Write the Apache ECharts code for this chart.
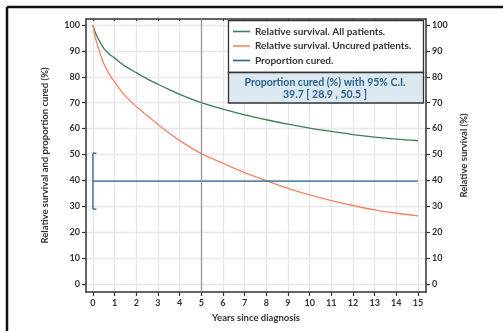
<!DOCTYPE html>
<html>
<head>
<meta charset="utf-8">
<script src="https://cdn.jsdelivr.net/npm/echarts@6/dist/echarts.min.js"></script>
<style>
  html, body { margin: 0; padding: 0; background: #fff; }
  #chart { width: 503px; height: 331px; }
</style>
</head>
<body>
<div id="chart"></div>
<script>
// Years since diagnosis at which the survival curves are sampled
const years = [0, 0.1, 0.25, 0.5, 0.75, 1, 1.5, 2, 2.5, 3, 3.5, 4, 5, 6, 7, 8, 9, 10, 11, 12, 13, 14, 15];
// Relative survival, all patients (%)
const survivalAll = [100, 97.3, 94.6, 91, 88.8, 87.2, 84.0, 81.6, 79.2, 77.1, 75.1, 73.2, 70.0, 67.5, 65.3, 63.4, 61.7, 60.2, 58.9, 57.7, 56.7, 55.9, 55.3];
// Relative survival, uncured patients (%)
const survivalUncured = [100, 95.5, 91, 85, 81, 78, 72.5, 68.5, 65, 61.6, 58.4, 55.4, 50.3, 46.6, 43, 39.9, 36.9, 34.4, 32.2, 30.3, 28.6, 27.3, 26.3];
// Proportion cured (%) with 95% confidence interval
const cureYears = [0, 15];
const cureEstimate = 39.7;
const cureLower = 28.9;
const cureUpper = 50.5;
// Tick values
const xTicks = [0, 1, 2, 3, 4, 5, 6, 7, 8, 9, 10, 11, 12, 13, 14, 15];
const yTicks = [0, 10, 20, 30, 40, 50, 60, 70, 80, 90, 100];
const markYear = 5;

const FONT = "Lato, 'Liberation Sans', sans-serif";
const AXIS_COLOR = '#333';
const TEXT_COLOR = '#333';
const GREEN = '#3f7d57';
const ORANGE = '#f58466';
const BLUE = '#2a6290';

const chart = echarts.init(document.getElementById('chart'), null, { renderer: 'canvas' });

const pairs = (xs, ys) => xs.map((x, i) => [x, ys[i]]);

const gridLine = { show: true, lineStyle: { color: '#e8e8e8', width: 1.3 } };
const axisLine = { show: true, onZero: false, lineStyle: { color: AXIS_COLOR, width: 1.5 } };
const tickLabel = { fontFamily: FONT, fontSize: 9, fontWeight: 'bold', color: TEXT_COLOR };
const nameStyle = { fontFamily: FONT, fontSize: 9.5, fontWeight: 'bold', color: TEXT_COLOR };

chart.setOption({
  animation: false,
  textStyle: { fontFamily: FONT },
  grid: { left: 86, right: 77, top: 19, bottom: 39, containLabel: false },
  xAxis: [
    {
      type: 'value', position: 'bottom', min: -0.32, max: 15.37,
      name: 'Years since diagnosis', nameLocation: 'middle', nameGap: 19,
      nameTextStyle: nameStyle,
      axisLine: axisLine,
      axisTick: { show: true, length: 4, lineStyle: { color: AXIS_COLOR, width: 1.2 }, customValues: xTicks },
      axisLabel: Object.assign({ margin: 7, customValues: xTicks }, tickLabel),
      splitLine: gridLine
    },
    {
      type: 'value', position: 'top', min: -0.32, max: 15.37,
      axisLine: axisLine,
      axisTick: { show: true, inside: true, length: 2, lineStyle: { color: AXIS_COLOR, width: 1.2 }, customValues: xTicks },
      axisLabel: { show: false },
      splitLine: { show: false }
    }
  ],
  yAxis: [
    {
      type: 'value', position: 'left', min: -3.1, max: 102.3,
      name: 'Relative survival and proportion cured (%)', nameLocation: 'middle', nameGap: 36, nameRotate: 90,
      nameTextStyle: nameStyle,
      axisLine: axisLine,
      axisTick: { show: true, length: 4, lineStyle: { color: AXIS_COLOR, width: 1.2 }, customValues: yTicks },
      axisLabel: Object.assign({ margin: 6, customValues: yTicks }, tickLabel),
      splitLine: gridLine
    },
    {
      type: 'value', position: 'right', min: -3.1, max: 102.3,
      name: 'Relative survival (%)', nameLocation: 'middle', nameGap: 32, nameRotate: 90,
      nameTextStyle: nameStyle,
      axisLine: axisLine,
      axisTick: { show: true, length: 4, lineStyle: { color: AXIS_COLOR, width: 1.2 }, customValues: yTicks },
      axisLabel: Object.assign({ margin: 6, customValues: yTicks }, tickLabel),
      splitLine: { show: false }
    }
  ],
  legend: {
    orient: 'vertical', left: 233, top: 26.5, z: 10, padding: 0,
    icon: 'rect', itemWidth: 17, itemHeight: 1.6, itemGap: 4.5,
    textStyle: { fontFamily: FONT, fontSize: 10, fontWeight: 'bold', color: TEXT_COLOR, lineHeight: 10 },
    data: ['Relative survival. All patients.', 'Relative survival. Uncured patients.', 'Proportion cured.']
  },
  graphic: [
    // outer frame
    { type: 'line', z: 20, shape: { x1: 7, y1: 7, x2: 503, y2: 7 }, style: { stroke: '#111', lineWidth: 2.5 } },
    { type: 'line', z: 20, shape: { x1: 7, y1: 7, x2: 7, y2: 331 }, style: { stroke: '#111', lineWidth: 2.5 } },
    // legend box
    { type: 'rect', z: 8, shape: { x: 228.5, y: 20.5, width: 195, height: 52 }, style: { fill: '#fff', stroke: '#333', lineWidth: 1.3 } },
    { type: 'rect', z: 8, shape: { x: 228.5, y: 72.5, width: 195, height: 30.5 }, style: { fill: '#dce8f0', stroke: '#333', lineWidth: 1.3 } },
    { type: 'text', z: 9, x: 325, y: 76.5,
      style: { text: 'Proportion cured (%) with 95% C.I.\n' + cureEstimate.toFixed(1) + ' [ ' + cureLower.toFixed(1) + ' , ' + cureUpper.toFixed(1) + ' ]',
               fill: BLUE, font: 'bold 10.5px ' + FONT, align: 'center', verticalAlign: 'top', lineHeight: 11.8 } }
  ],
  series: [
    {
      name: 'Relative survival. All patients.', type: 'line', data: pairs(years, survivalAll),
      smooth: 0.3, showSymbol: false, symbol: 'none',
      lineStyle: { color: GREEN, width: 1.3 }, itemStyle: { color: GREEN }, z: 3,
      markLine: {
        silent: true, symbol: 'none', label: { show: false },
        lineStyle: { color: '#9a9a9a', width: 1.3, type: 'solid' },
        data: [{ xAxis: markYear }]
      }
    },
    {
      name: 'Relative survival. Uncured patients.', type: 'line', data: pairs(years, survivalUncured),
      smooth: 0.3, showSymbol: false, symbol: 'none',
      lineStyle: { color: ORANGE, width: 1.3 }, itemStyle: { color: ORANGE }, z: 3
    },
    {
      name: 'Proportion cured.', type: 'line', data: cureYears.map(x => [x, cureEstimate]),
      showSymbol: false, symbol: 'none',
      lineStyle: { color: BLUE, width: 1.3 }, itemStyle: { color: BLUE }, z: 3
    },
    {
      name: 'cureInterval', type: 'custom', z: 4,
      data: [[0, cureLower, cureUpper]],
      renderItem: function (params, api) {
        const x = api.value(0);
        const lo = api.coord([x, api.value(1)]);
        const hi = api.coord([x, api.value(2)]);
        const cap = 3.5;
        const style = { stroke: BLUE, lineWidth: 1.3 };
        return {
          type: 'group',
          children: [
            { type: 'line', shape: { x1: lo[0], y1: lo[1], x2: hi[0], y2: hi[1] }, style: style },
            { type: 'line', shape: { x1: lo[0], y1: lo[1], x2: lo[0] + cap, y2: lo[1] }, style: style },
            { type: 'line', shape: { x1: hi[0], y1: hi[1], x2: hi[0] + cap, y2: hi[1] }, style: style }
          ]
        };
      }
    }
  ]
});
</script>
</body>
</html>
